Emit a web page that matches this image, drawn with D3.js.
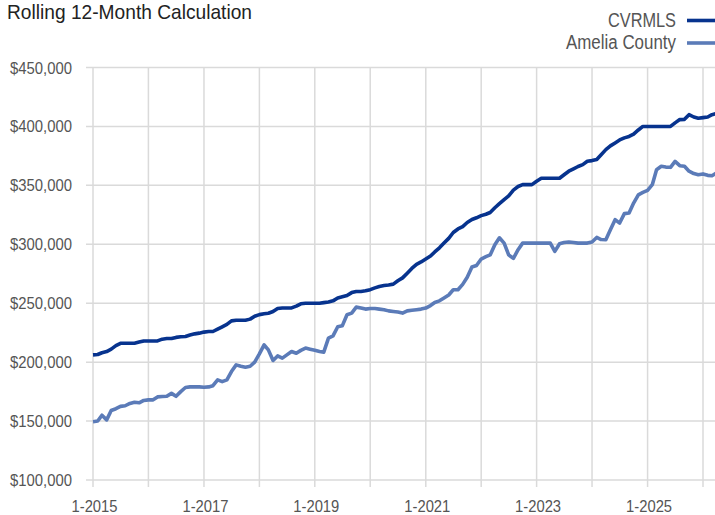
<!DOCTYPE html>
<html>
<head>
<meta charset="utf-8">
<script src="https://cdn.jsdelivr.net/npm/d3@7"></script>
<style>
  body { margin: 0; background: #fff; }
  svg text { font-family: "Liberation Sans Narrow", "Arial Narrow", "Liberation Sans", sans-serif; }
</style>
</head>
<body>
<div id="plot"></div>
<script>
// monthly values, Jan 2015 onward
const startYear = 2015;
const cvrmls = [
  206.2, 206.5, 208, 209, 211, 214, 216, 216, 216, 216, 217, 218,
  218, 218, 218, 219.5, 220, 220, 221, 221.5, 221.7, 223, 224, 224.6,
  225.5, 226, 226, 228, 230, 232, 235, 235.5, 235.5, 235.5, 236.5, 239,
  240.3, 241, 241.5, 243, 245.5, 246, 246, 246, 247.5, 249.5, 250, 250,
  250, 250, 250.5, 251, 252, 254.5, 255.5, 256.5, 259, 260, 260, 260.5,
  261.5, 263, 264.2, 265, 265.5, 266.2, 269, 271.5, 275.5, 279.5, 283, 285,
  287.5, 290, 293.5, 297, 301, 305, 310, 313, 315, 318.5, 321, 322.5,
  324.3, 325.5, 327, 331, 334.5, 337.9, 341, 346, 349, 350.6, 350.6, 350.6,
  353.5, 356, 356, 356, 356, 356, 359, 362, 364, 366, 367.6, 370.4,
  371, 372, 376, 380.3, 383.5, 386, 388.5, 390.3, 391.5, 393.5, 397, 400,
  400, 400, 400, 400, 400, 400, 403, 405.8, 406, 410, 408, 407,
  407.5, 408, 410, 411
];
const amelia = [
  149.5, 150, 155, 151, 159, 160.5, 162.5, 163, 165, 166, 165.5, 167.5,
  168, 168, 170.5, 170.8, 171, 173.5, 171, 175, 178.5, 179, 179, 179,
  178.7, 179, 180, 185, 183.5, 185, 192, 197.7, 196.5, 195.7, 196.5, 200,
  207, 214.7, 210.4, 201.4, 205.3, 203.4, 206.2, 209, 207.6, 210, 211.9, 211,
  210, 209, 208.5, 220.4, 222.3, 230, 230.8, 240.2, 241.6, 246.7, 246, 245,
  245.5, 245.5, 245, 244.5, 243.5, 243, 242.5, 241.6, 243.5, 244, 244.5, 245,
  245.9, 248, 250.6, 252, 254.5, 257, 261.4, 261.4, 266, 272, 280.7, 282,
  287.5, 289.5, 291, 299.6, 305.5, 301, 291, 288, 295.4, 301, 301, 301,
  301, 301, 301, 301, 294, 300.5, 301.5, 302, 301.5, 301, 301, 301,
  302, 305.8, 304, 303.9, 312.4, 320.9, 318, 326, 326.5, 335, 342, 344,
  345.8, 350.6, 363.3, 366.2, 365.5, 365.3, 370.4, 366.7, 366.2, 362, 360, 359,
  359.7, 358.5, 358.2, 360.6
];
const yTicks = [100000, 150000, 200000, 250000, 300000, 350000, 400000, 450000];
const seriesNames = ["CVRMLS", "Amelia County"];
const seriesColors = ["#07338e", "#5b7bb8"];

const width = 715, height = 515;
const svg = d3.select("#plot").append("svg")
    .attr("width", width)
    .attr("height", height);

const x = d3.scaleTime()
    .domain([new Date(2015, 0, 1), new Date(2026, 0, 1)])
    .range([93, 703]);
const y = d3.scaleLinear()
    .domain([100000, 450000])
    .range([480, 67.5]);

const toDate = (i) => new Date(startYear, i, 1);
const grid = "#dadada";

// horizontal grid
svg.selectAll("line.hgrid").data(yTicks).enter().append("line")
    .attr("class", "hgrid")
    .attr("x1", 86).attr("x2", width)
    .attr("y1", d => y(d)).attr("y2", d => y(d))
    .attr("stroke", grid).attr("stroke-width", 1.5);

// vertical grid, one per year
const years = d3.timeYear.range(new Date(2015, 0, 1), new Date(2027, 0, 1));
svg.selectAll("line.vgrid").data(years).enter().append("line")
    .attr("class", "vgrid")
    .attr("x1", d => x(d)).attr("x2", d => x(d))
    .attr("y1", y(450000)).attr("y2", 487)
    .attr("stroke", grid).attr("stroke-width", 1.5);

// y labels (narrow look via textLength)
svg.selectAll("text.ylab").data(yTicks).enter().append("text")
    .attr("class", "ylab")
    .attr("x", 72)
    .attr("y", d => y(d) + 6)
    .attr("text-anchor", "end")
    .attr("fill", "#555")
    .attr("textLength", 62)
    .attr("lengthAdjust", "spacingAndGlyphs")
    .style("font-size", "16px")
    .text(d => "$" + d3.format(",")(d));

// x labels every two years
svg.selectAll("text.xlab").data(years.filter(d => (d.getFullYear() - 2015) % 2 === 0 && d.getFullYear() <= 2025))
    .enter().append("text")
    .attr("class", "xlab")
    .attr("x", d => x(d) + 1.5)
    .attr("y", 512)
    .attr("text-anchor", "middle")
    .attr("fill", "#555")
    .attr("textLength", 46)
    .attr("lengthAdjust", "spacingAndGlyphs")
    .style("font-size", "16px")
    .text(d => "1-" + d.getFullYear());

// lines
const line = d3.line()
    .x((d, i) => x(toDate(i)))
    .y(d => y(d * 1000));

[amelia, cvrmls].forEach((s, k) => {
    svg.append("path")
        .datum(s)
        .attr("d", line)
        .attr("fill", "none")
        .attr("stroke", seriesColors[1 - k])
        .attr("stroke-width", 3.6)
        .attr("stroke-linejoin", "round");
});

// title
svg.append("text")
    .attr("x", 7)
    .attr("y", 19)
    .attr("fill", "#222")
    .attr("textLength", 245)
    .attr("lengthAdjust", "spacingAndGlyphs")
    .style("font-size", "21px")
    .text("Rolling 12-Month Calculation");

// legend
const legendY = [20.5, 43];
const legendW = [68, 110];
seriesNames.forEach((name, i) => {
    svg.append("text")
        .attr("x", 676)
        .attr("y", legendY[i] + 6)
        .attr("text-anchor", "end")
        .attr("fill", "#555")
        .attr("textLength", legendW[i])
        .attr("lengthAdjust", "spacingAndGlyphs")
        .style("font-size", "19.5px")
        .text(name);
    svg.append("line")
        .attr("x1", 687).attr("x2", width)
        .attr("y1", legendY[i]).attr("y2", legendY[i])
        .attr("stroke", seriesColors[i])
        .attr("stroke-width", 3.6);
});
</script>
</body>
</html>
